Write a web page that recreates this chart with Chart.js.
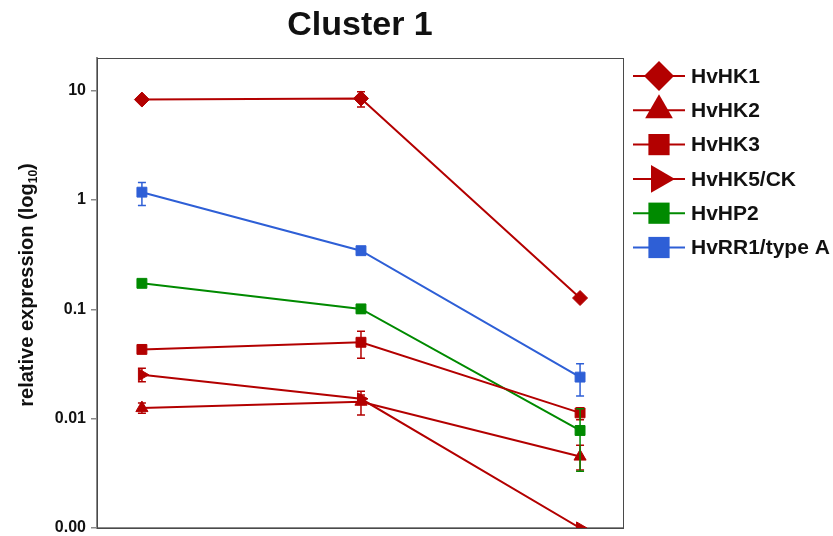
<!DOCTYPE html>
<html>
<head>
<meta charset="utf-8">
<script src="https://cdn.jsdelivr.net/npm/chart.js@4.4.1/dist/chart.umd.min.js"></script>
<style>
  html, body { margin: 0; padding: 0; background: #fff; }
</style>
</head>
<body>
<canvas id="myChart" width="833" height="536"></canvas>
<script>
// Time points (x positions, no labels shown)
const timePoints = [0, 1, 2];

// Y axis ticks
const tickValues = [0.001, 0.01, 0.1, 1, 10];
const tickLabels = ['0.00', '0.01', '0.1', '1', '10'];

// Series values
const hk1 = [8.3, 8.5, 0.127];
const hk1Low = [null, 7.1, null];
const hk1High = [null, 9.8, null];

const hk2 = [0.0125, 0.0143, 0.0045];
const hk2Low = [0.0112, 0.0108, 0.0034];
const hk2High = [0.0139, 0.0178, 0.0057];

const hk3 = [0.043, 0.050, 0.0113];
const hk3Low = [null, 0.0358, 0.0098];
const hk3High = [null, 0.0632, 0.0126];

const hk5 = [0.0252, 0.0152, 0.001];
const hk5Low = [0.0218, 0.0135, null];
const hk5High = [0.029, 0.0165, null];

const hp2 = [0.173, 0.101, 0.0078];
const hp2Low = [null, 0.092, 0.0033];
const hp2High = [null, 0.11, 0.0123];

const rr1 = [1.18, 0.344, 0.024];
const rr1Low = [0.89, null, 0.0161];
const rr1High = [1.45, null, 0.0318];

const RED = '#b30000';
const GREEN = '#008a00';
const BLUE = '#2e5fd6';

function makeSet(label, values, low, high, color, style, rot, legendRadius) {
    return {
        label: label,
        data: values.map((v, i) => ({ x: timePoints[i], y: v })),
        errLow: low,
        errHigh: high,
        borderColor: color,
        backgroundColor: color,
        borderWidth: 2,
        pointStyle: style,
        rotation: rot,
        pointRadius: style === 'rectRot' ? 7.5 : 7,
        pointBorderWidth: 1,
        tension: 0,
        legendRadius: legendRadius
    };
}

const datasets = [
    makeSet('HvHK1', hk1, hk1Low, hk1High, RED, 'rectRot', 0, 15),
    makeSet('HvHK2', hk2, hk2Low, hk2High, RED, 'triangle', 0, 16),
    makeSet('HvHK3', hk3, hk3Low, hk3High, RED, 'rect', 0, 15),
    makeSet('HvHK5/CK', hk5, hk5Low, hk5High, RED, 'triangle', 90, 16),
    makeSet('HvHP2', hp2, hp2Low, hp2High, GREEN, 'rect', 0, 15),
    makeSet('HvRR1/type A', rr1, rr1Low, rr1High, BLUE, 'rect', 0, 15)
];

// Box outline (top and right edges)
const frame = {
    id: 'frame',
    beforeDatasetsDraw(chart) {
        const { ctx, chartArea: a } = chart;
        ctx.save();
        ctx.strokeStyle = '#4a4a4a';
        ctx.lineWidth = 1;
        ctx.strokeRect(Math.round(a.left) + 0.5, Math.round(a.top) + 0.5,
            Math.round(a.right - a.left), Math.round(a.bottom - a.top));
        ctx.restore();
    }
};

// Error bars from the low/high arrays
const errorBars = {
    id: 'errorBars',
    afterDatasetsDraw(chart) {
        const { ctx, chartArea: a, scales: { x, y } } = chart;
        ctx.save();
        ctx.beginPath();
        ctx.rect(a.left, a.top, a.right - a.left, a.bottom - a.top);
        ctx.clip();
        chart.data.datasets.forEach(ds => {
            ds.errLow.forEach((lo, i) => {
                const hi = ds.errHigh[i];
                if (lo == null || hi == null) return;
                const px = x.getPixelForValue(timePoints[i]);
                const pLo = y.getPixelForValue(lo);
                const pHi = y.getPixelForValue(hi);
                ctx.strokeStyle = ds.borderColor;
                ctx.lineWidth = 1.5;
                ctx.beginPath();
                ctx.moveTo(px, pLo); ctx.lineTo(px, pHi);
                ctx.moveTo(px - 4, pLo); ctx.lineTo(px + 4, pLo);
                ctx.moveTo(px - 4, pHi); ctx.lineTo(px + 4, pHi);
                ctx.stroke();
            });
        });
        ctx.restore();
    }
};

// Y axis title with a subscript
const yTitle = {
    id: 'yTitle',
    afterDraw(chart) {
        const { ctx } = chart;
        const main = 'relative expression (log';
        const sub = '10';
        const end = ')';
        ctx.save();
        ctx.fillStyle = '#111';
        ctx.textBaseline = 'alphabetic';
        ctx.textAlign = 'left';
        const bigFont = 'bold 20px "Liberation Sans", Arial, sans-serif';
        const smallFont = 'bold 12px "Liberation Sans", Arial, sans-serif';
        ctx.font = bigFont;
        const w1 = ctx.measureText(main).width;
        const w3 = ctx.measureText(end).width;
        ctx.font = smallFont;
        const w2 = ctx.measureText(sub).width;
        const total = w1 + w2 + w3;
        ctx.translate(33, 285);
        ctx.rotate(-Math.PI / 2);
        let u = -total / 2;
        ctx.font = bigFont;
        ctx.fillText(main, u, 0);
        u += w1;
        ctx.font = smallFont;
        ctx.fillText(sub, u, 4);
        u += w2;
        ctx.font = bigFont;
        ctx.fillText(end, u, 0);
        ctx.restore();
    }
};

// Legend: line sample with large marker, label on the right
const sideLegend = {
    id: 'sideLegend',
    afterDraw(chart) {
        const { ctx } = chart;
        ctx.save();
        chart.data.datasets.forEach((ds, i) => {
            const yy = 76 + i * 34.3;
            ctx.strokeStyle = ds.borderColor;
            ctx.lineWidth = 2;
            ctx.beginPath();
            ctx.moveTo(633, yy);
            ctx.lineTo(685, yy);
            ctx.stroke();
            ctx.fillStyle = ds.backgroundColor;
            Chart.helpers.drawPoint(ctx, {
                pointStyle: ds.pointStyle,
                radius: ds.legendRadius,
                rotation: ds.rotation,
                borderWidth: 0
            }, 659, yy);
            ctx.fillStyle = '#111';
            ctx.font = 'bold 21px "Liberation Sans", Arial, sans-serif';
            ctx.textAlign = 'left';
            ctx.textBaseline = 'middle';
            ctx.fillText(ds.label, 691, yy + 1);
        });
        ctx.restore();
    }
};

const config = {
    type: 'line',
    data: { datasets: datasets },
    options: {
        responsive: false,
        animation: false,
        events: [],
        layout: {
            autoPadding: false,
            padding: { left: 0, top: 0, right: 210, bottom: 8 }
        },
        scales: {
            x: {
                type: 'linear',
                min: -0.205,
                max: 2.196,
                ticks: { display: false },
                grid: { display: false },
                border: { display: true, color: '#8a8a8a', width: 2 },
                afterFit: (s) => { s.height = 0; }
            },
            y: {
                type: 'logarithmic',
                min: 0.001,
                max: 20,
                afterBuildTicks: (s) => {
                    s.ticks = tickValues.map(v => ({ value: v }));
                },
                afterFit: (s) => {
                    s.width = 97;
                    s.paddingTop = 0;
                    s.paddingBottom = 0;
                },
                ticks: {
                    color: '#111',
                    padding: 5,
                    font: { family: '"Liberation Sans", Arial, sans-serif', size: 16, weight: 'bold' },
                    callback: (v, idx) => tickLabels[idx]
                },
                grid: {
                    drawOnChartArea: false,
                    drawTicks: true,
                    tickLength: 6,
                    color: '#8a8a8a',
                    lineWidth: 1.5
                },
                border: { display: true, color: '#8a8a8a', width: 2 }
            }
        },
        plugins: {
            legend: { display: false },
            tooltip: { enabled: false },
            title: {
                display: true,
                text: 'Cluster 1',
                fullSize: false,
                color: '#111',
                font: { family: '"Liberation Sans", Arial, sans-serif', size: 34, weight: 'bold' },
                padding: { top: 5, bottom: 12 }
            }
        }
    },
    plugins: [frame, errorBars, yTitle, sideLegend]
};

const myChart = new Chart(document.getElementById('myChart').getContext('2d'), config);
</script>
</body>
</html>
